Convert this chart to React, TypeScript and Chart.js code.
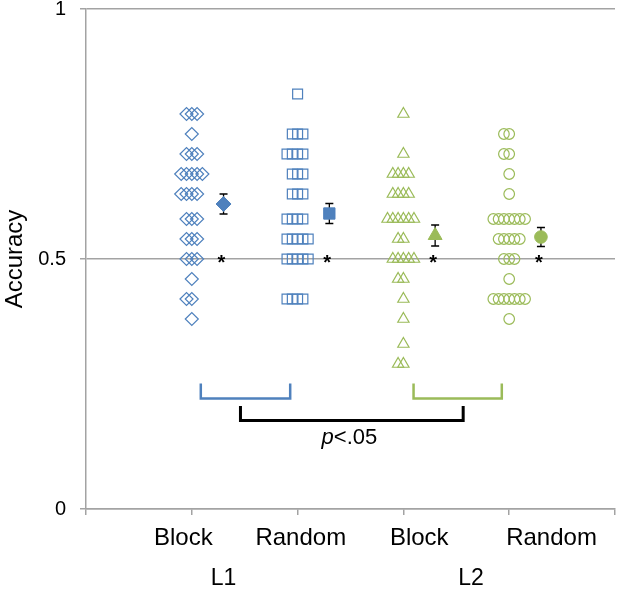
import React, { useEffect, useRef } from "react";
import { Chart, registerables } from "chart.js";

Chart.register(...registerables);

// ---- data ----
const conditionLabels = ["Block", "Random", "Block", "Random"];
const languageLabels = ["L1", "L2"];
const groupPositions = [1, 2, 3, 4];

const l1Block = [
  0.79, 0.79, 0.79, 0.75, 0.71, 0.71, 0.71, 0.67, 0.67, 0.67, 0.67, 0.67,
  0.63, 0.63, 0.63, 0.63, 0.58, 0.58, 0.58, 0.54, 0.54, 0.54, 0.5, 0.5, 0.5,
  0.46, 0.42, 0.42, 0.38,
];
const l1Random = [
  0.83, 0.75, 0.75, 0.75, 0.71, 0.71, 0.71, 0.71, 0.67, 0.67, 0.67, 0.63,
  0.63, 0.63, 0.58, 0.58, 0.58, 0.58, 0.54, 0.54, 0.54, 0.54, 0.54, 0.5, 0.5,
  0.5, 0.5, 0.5, 0.42, 0.42, 0.42, 0.42,
];
const l2Block = [
  0.79, 0.71, 0.67, 0.67, 0.67, 0.67, 0.63, 0.63, 0.63, 0.63, 0.58, 0.58,
  0.58, 0.58, 0.58, 0.58, 0.54, 0.54, 0.5, 0.5, 0.5, 0.5, 0.5, 0.46, 0.46,
  0.42, 0.38, 0.33, 0.29, 0.29,
];
const l2Random = [
  0.75, 0.75, 0.71, 0.71, 0.67, 0.63, 0.58, 0.58, 0.58, 0.58, 0.58, 0.58,
  0.58, 0.54, 0.54, 0.54, 0.54, 0.54, 0.5, 0.5, 0.5, 0.46, 0.42, 0.42, 0.42,
  0.42, 0.42, 0.42, 0.42, 0.38,
];
const meanValues = [0.61, 0.591, 0.547, 0.544];
const errorValues = [0.02, 0.02, 0.021, 0.019];
const significanceY = [0.5, 0.5, 0.5, 0.5];
const yTickValues = [0, 0.5, 1];
const significanceText = ["p", "<.05"];

// ---- styling / layout ----
const BLUE = "#4F81BD";
const GREEN = "#9BBB59";
const GREY = "#a3a3a3";
const FONT = "'Liberation Sans', Arial, sans-serif";
const groupColors = [BLUE, BLUE, GREEN, GREEN];
const groupStyles = ["rectRot", "rect", "triangle", "circle"] as const;
const rawRadius = [6.5, 7, 6.5, 5.3];
const meanRadius = [7.5, 8, 8, 6.3];
const SWARM_STEP = 0.05;
const MEAN_OFFSET = 0.3;
const STAR_OFFSET = 0.28;

const labelXs = [0.92, 2.03, 3.15, 4.4];
const languageXs = [1.3, 3.64];
const brackets = [
  { from: 1.085, to: 1.93, top: 0.251, bottom: 0.221, color: BLUE, width: 2.5 },
  { from: 3.096, to: 3.93, top: 0.251, bottom: 0.221, color: GREEN, width: 2.5 },
  { from: 1.46, to: 3.565, top: 0.206, bottom: 0.177, color: "#000", width: 3 },
];
const significanceX = 2.49;
const significanceBaseline = 0.13;

function swarm(values: number[], center: number) {
  const counts = new Map<number, number>();
  values.forEach((v) => counts.set(v, (counts.get(v) || 0) + 1));
  const pts: { x: number; y: number }[] = [];
  counts.forEach((n, v) => {
    const start = -Math.floor(n / 2);
    for (let i = 0; i < n; i++) pts.push({ x: center + (start + i) * SWARM_STEP, y: v });
  });
  return pts;
}

const annotationPlugin = {
  id: "annotations",
  beforeDatasetsDraw(chart: any) {
    const { ctx, scales } = chart;
    const xs = scales.x;
    const ys = scales.y;
    ctx.save();
    ctx.strokeStyle = "#000";
    ctx.lineWidth = 1.3;
    meanValues.forEach((m, i) => {
      const x = xs.getPixelForValue(groupPositions[i] + MEAN_OFFSET);
      const yTop = ys.getPixelForValue(m + errorValues[i]);
      const yBot = ys.getPixelForValue(m - errorValues[i]);
      ctx.beginPath();
      ctx.moveTo(x, yTop);
      ctx.lineTo(x, yBot);
      ctx.moveTo(x - 4, yTop);
      ctx.lineTo(x + 4, yTop);
      ctx.moveTo(x - 4, yBot);
      ctx.lineTo(x + 4, yBot);
      ctx.stroke();
    });
    ctx.restore();
  },
  afterDatasetsDraw(chart: any) {
    const { ctx, scales } = chart;
    const xs = scales.x;
    const ys = scales.y;
    ctx.save();
    // asterisks
    ctx.fillStyle = "#000";
    ctx.font = `bold 20px ${FONT}`;
    ctx.textAlign = "center";
    ctx.textBaseline = "alphabetic";
    const m = ctx.measureText("*");
    const shift = (m.actualBoundingBoxAscent - m.actualBoundingBoxDescent) / 2;
    significanceY.forEach((v, i) => {
      const x = xs.getPixelForValue(groupPositions[i] + STAR_OFFSET);
      const y = ys.getPixelForValue(v);
      ctx.fillText("*", x, y + shift);
    });
    // brackets
    brackets.forEach((b) => {
      ctx.strokeStyle = b.color;
      ctx.lineWidth = b.width;
      ctx.lineJoin = "miter";
      ctx.lineCap = "butt";
      const x1 = xs.getPixelForValue(b.from);
      const x2 = xs.getPixelForValue(b.to);
      const yt = ys.getPixelForValue(b.top);
      const yb = ys.getPixelForValue(b.bottom);
      ctx.beginPath();
      ctx.moveTo(x1, yt);
      ctx.lineTo(x1, yb);
      ctx.lineTo(x2, yb);
      ctx.lineTo(x2, yt);
      ctx.stroke();
    });
    // p<.05
    const pFont = `italic 22px ${FONT}`;
    const rFont = `22px ${FONT}`;
    ctx.font = pFont;
    const w1 = ctx.measureText(significanceText[0]).width;
    ctx.font = rFont;
    const w2 = ctx.measureText(significanceText[1]).width;
    const cx = xs.getPixelForValue(significanceX);
    const by = ys.getPixelForValue(significanceBaseline);
    const sx = cx - (w1 + w2) / 2;
    ctx.textAlign = "left";
    ctx.fillStyle = "#000";
    ctx.font = pFont;
    ctx.fillText(significanceText[0], sx, by);
    ctx.font = rFont;
    ctx.fillText(significanceText[1], sx + w1, by);
    // category labels
    const base = ys.getPixelForValue(0);
    ctx.textAlign = "center";
    ctx.font = `24px ${FONT}`;
    conditionLabels.forEach((t, i) => {
      ctx.fillText(t, xs.getPixelForValue(labelXs[i]), base + 36);
    });
    ctx.font = `23px ${FONT}`;
    languageLabels.forEach((t, i) => {
      ctx.fillText(t, xs.getPixelForValue(languageXs[i]), base + 76);
    });
    ctx.restore();
  },
};

export default function App() {
  const canvasRef = useRef<HTMLCanvasElement | null>(null);

  useEffect(() => {
    if (!canvasRef.current) return;
    const rawSets = [l1Block, l1Random, l2Block, l2Random];
    const datasets: any[] = [];
    rawSets.forEach((vals, i) => {
      datasets.push({
        data: swarm(vals, groupPositions[i]),
        pointStyle: groupStyles[i],
        pointRadius: rawRadius[i],
        borderColor: groupColors[i],
        backgroundColor: "rgba(0,0,0,0)",
        borderWidth: 1.2,
        showLine: false,
      });
    });
    meanValues.forEach((mv, i) => {
      datasets.push({
        data: [{ x: groupPositions[i] + MEAN_OFFSET, y: mv }],
        pointStyle: groupStyles[i],
        pointRadius: meanRadius[i],
        borderColor: groupColors[i],
        backgroundColor: groupColors[i],
        borderWidth: 1,
        showLine: false,
      });
    });

    const chart = new Chart(canvasRef.current, {
      type: "scatter",
      data: { datasets },
      options: {
        responsive: false,
        animation: false,
        devicePixelRatio: 1,
        layout: { padding: { top: 9, right: 5, bottom: 75, left: 0 } },
        plugins: { legend: { display: false }, tooltip: { enabled: false } },
        scales: {
          x: {
            type: "linear",
            min: 0,
            max: 5,
            ticks: { display: false, stepSize: 1 },
            grid: { drawOnChartArea: false, drawTicks: true, tickLength: 6, color: GREY, lineWidth: 1.5 },
            border: { display: true, color: GREY, width: 1.5 },
          },
          y: {
            type: "linear",
            min: 0,
            max: 1,
            afterBuildTicks: (s: any) => {
              s.ticks = yTickValues.map((v) => ({ value: v }));
            },
            afterFit: (s: any) => {
              s.width = 86;
              s.paddingTop = 0;
              s.paddingBottom = 0;
            },
            ticks: {
              padding: 14,
              color: "#000",
              font: { family: FONT, size: 20 },
              callback: (v: any) => String(v),
            },
            grid: { drawOnChartArea: true, drawTicks: true, tickLength: 6, color: GREY, lineWidth: 1.5 },
            border: { display: true, color: GREY, width: 1.5 },
            title: {
              display: true,
              text: "Accuracy",
              color: "#000",
              font: { family: FONT, size: 24 },
              padding: { top: 1, bottom: 0 },
            },
          },
        },
      },
      plugins: [annotationPlugin],
    });
    return () => chart.destroy();
  }, []);

  return (
    <div style={{ position: "fixed", left: 0, top: 0, width: 624, height: 590, background: "#fff" }}>
      <canvas ref={canvasRef} width={624} height={590} style={{ display: "block" }} />
    </div>
  );
}
